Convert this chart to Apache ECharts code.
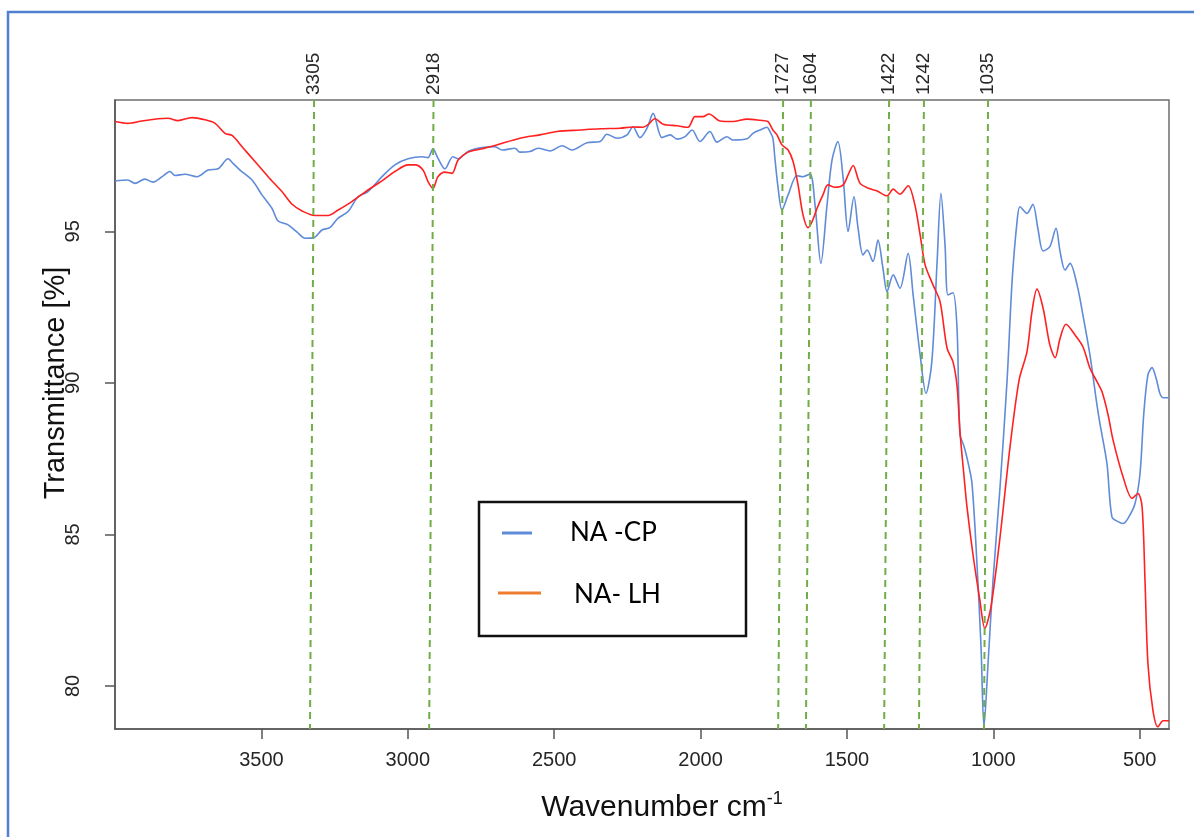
<!DOCTYPE html>
<html>
<head>
<meta charset="utf-8">
<script src="https://cdn.jsdelivr.net/npm/echarts@6/dist/echarts.min.js"></script>
<style>
html,body{margin:0;padding:0;background:#fff;}
#chart{width:1194px;height:837px;}
</style>
</head>
<body>
<div id="chart"></div>
<script>
// ---- Data ----
// NA-CP (blue) spectrum
const cpWave = [4000,3956,3932,3898,3870,3839,3812,3795,3761,3720,
  3682,3648,3614,3597,3573,3532,3498,3464,3443,3409,
  3378,3351,3320,3293,3266,3238,3204,3170,3136,3088,
  3044,2999,2951,2931,2914,2897,2873,2846,2828,2794,
  2747,2702,2678,2634,2617,2583,2555,2514,2473,2439,
  2388,2343,2320,2285,2251,2231,2207,2183,2162,2132,
  2104,2080,2053,2029,2002,1968,1944,1910,1889,1841,
  1821,1797,1773,1763,1753,1746,1735,1722,1701,1671,
  1650,1626,1609,1589,1568,1551,1531,1513,1496,1476,
  1462,1445,1431,1411,1394,1377,1363,1342,1319,1291,
  1274,1250,1230,1210,1192,1179,1165,1155,1138,1124,
  1114,1100,1087,1073,1056,1042,1032,1018,1001,977,
  953,936,919,909,885,865,848,830,807,786,
  772,755,738,714,694,670,646,636,612,595,
  574,557,540,516,499,486,472,458,444,431,
  420,400];
const cpTrans = [96.66,96.69,96.58,96.72,96.62,96.80,96.97,96.84,96.88,96.80,
  97.02,97.06,97.39,97.24,97.02,96.69,96.20,95.76,95.34,95.21,
  94.97,94.77,94.79,95.04,95.12,95.43,95.65,96.14,96.31,96.80,
  97.19,97.39,97.46,97.43,97.72,97.41,97.06,97.46,97.39,97.63,
  97.76,97.79,97.68,97.74,97.61,97.63,97.74,97.65,97.82,97.68,
  97.92,97.96,98.20,98.07,98.18,98.45,98.09,98.40,98.89,98.09,
  98.18,98.04,98.12,98.34,97.96,98.29,97.94,98.12,98.01,98.05,
  98.23,98.34,98.43,98.29,98.07,97.40,96.42,95.70,96.20,96.83,
  96.80,96.89,95.87,93.94,95.87,97.35,97.96,96.75,94.99,96.14,
  95.10,94.22,94.38,94.00,94.71,93.78,93.01,93.56,93.12,94.27,
  92.90,90.92,89.65,90.70,94.00,96.25,94.55,92.90,92.97,91.80,
  88.30,87.90,87.40,86.69,84.05,81.29,78.65,80.75,83.49,86.57,
  90.09,93.34,95.32,95.81,95.59,95.89,95.10,94.35,94.49,95.10,
  94.33,93.72,93.94,93.23,92.24,90.92,89.27,88.66,87.34,85.58,
  85.42,85.36,85.53,86.02,87.01,89.00,90.26,90.50,90.15,89.65,
  89.51,89.51];

// NA-LH (red) spectrum
const lhWave = [4000,3956,3908,3853,3819,3785,3737,3693,3658,3624,
  3600,3566,3522,3477,3430,3395,3361,3317,3272,3238,
  3191,3136,3088,3044,2999,2975,2948,2931,2914,2897,
  2873,2849,2828,2794,2747,2702,2617,2548,2490,2412,
  2343,2275,2231,2197,2180,2156,2128,2080,2043,2019,
  1992,1971,1934,1889,1841,1797,1770,1753,1739,1722,
  1701,1684,1667,1650,1633,1619,1602,1582,1565,1541,
  1513,1496,1479,1455,1421,1397,1363,1342,1319,1291,
  1268,1250,1233,1206,1182,1158,1138,1124,1114,1100,
  1090,1070,1046,1029,1008,977,943,912,885,868,
  851,830,807,789,772,752,721,694,670,646,
  629,608,591,557,526,506,492,482,472,455,
  438,420,400];
const lhTrans = [98.62,98.56,98.64,98.71,98.73,98.65,98.75,98.68,98.56,98.23,
  98.16,97.79,97.30,96.80,96.31,95.89,95.67,95.52,95.52,95.70,
  95.98,96.36,96.66,96.97,97.19,97.19,97.02,96.64,96.42,96.80,
  96.95,96.91,97.35,97.61,97.72,97.83,98.07,98.18,98.29,98.34,
  98.38,98.40,98.44,98.43,98.51,98.71,98.53,98.48,98.43,98.78,
  98.78,98.87,98.64,98.62,98.70,98.66,98.62,98.34,98.18,97.85,
  97.68,97.30,96.53,95.54,95.12,95.32,95.76,96.20,96.53,96.45,
  96.53,96.86,97.17,96.58,96.40,96.33,96.17,96.39,96.22,96.50,
  95.87,94.88,93.89,93.23,92.68,91.14,90.70,89.90,88.40,86.90,
  85.91,84.37,82.83,81.90,82.61,84.92,87.89,90.09,91.03,92.35,
  93.09,92.46,91.25,90.83,91.47,91.93,91.58,91.19,90.48,90.04,
  89.71,88.94,88.11,86.90,86.19,86.35,85.91,83.49,80.74,79.20,
  78.65,78.85,78.85];

// Peak marker lines (as drawn: slightly slanted, top/bottom positions in cm-1)
const peakLabels = ['3305','2918','1727','1604','1422','1242','1035'];
const peakTop    = [3320,2912,1718,1623,1356,1237,1018];
const peakBottom = [3334,2927,1735,1640,1373,1254,1032];

// Axis ticks
const xTicks = [3500,3000,2500,2000,1500,1000,500];
const yTicks = [80,85,90,95];
const xMin = 400, xMax = 4000;
const yMin = 78.58, yMax = 99.33;

const seriesNames = ['NA -CP','NA- LH'];
// ------------------------------------------------

const cpData = cpWave.map((w,i)=>[w,cpTrans[i]]);
const lhData = lhWave.map((w,i)=>[w,lhTrans[i]]);
const markLines = peakTop.map((t,i)=>[{coord:[t,yMax]},{coord:[peakBottom[i],yMin]}]);

const FONT = '"Liberation Sans", Arial, sans-serif';
const plain = v => String(v);
const chart = echarts.init(document.getElementById('chart'), null, {renderer:'canvas'});
chart.setOption({
  animation:false,
  backgroundColor:'#ffffff',
  grid:{left:115, right:25, top:100, bottom:108, show:true, borderColor:'#6e6e6e', borderWidth:1.5, backgroundColor:'transparent'},
  xAxis:[{
    type:'value', min:xMin, max:xMax, inverse:true, position:'bottom',
    axisLine:{show:true, onZero:false, lineStyle:{color:'#555', width:1.5}},
    axisTick:{show:true, customValues:xTicks, length:10, lineStyle:{color:'#555', width:1.5}},
    axisLabel:{customValues:xTicks, margin:21, fontSize:20, color:'#262626', fontFamily:FONT, formatter:plain},
    splitLine:{show:false}
  },{
    type:'value', min:xMin, max:xMax, inverse:true, position:'top',
    axisLine:{show:false}, axisTick:{show:false},
    axisLabel:{customValues:peakTop, rotate:-90, margin:5, fontSize:19, color:'#262626', fontFamily:FONT,
      formatter:function(v){const i=peakTop.indexOf(v); return i>=0?peakLabels[i]:'';}},
    splitLine:{show:false}
  }],
  yAxis:{
    type:'value', min:yMin, max:yMax,
    axisLine:{show:true, onZero:false, lineStyle:{color:'#555', width:1.5}},
    axisTick:{show:true, customValues:yTicks, length:10, lineStyle:{color:'#555', width:1.5}},
    axisLabel:{customValues:yTicks, rotate:90, margin:32, fontSize:20, color:'#262626', fontFamily:FONT, formatter:plain},
    splitLine:{show:false}
  },
  series:[{
    name:seriesNames[0], type:'line', data:cpData, showSymbol:false, smooth:0.3,
    lineStyle:{color:'#5f8bd8', width:1.6}, itemStyle:{color:'#5f8bd8'}, z:3,
    markLine:{silent:true, symbol:['none','none'], label:{show:false}, animation:false,
      lineStyle:{color:'#70ad47', type:[7,5], width:2}, data:markLines}
  },{
    name:seriesNames[1], type:'line', data:lhData, showSymbol:false, smooth:0.3,
    lineStyle:{color:'#ff2020', width:1.6}, itemStyle:{color:'#ff2020'}, z:4
  }],
  graphic:[
    {type:'rect', shape:{x:8, y:12, width:1300, height:1000}, style:{fill:'none', stroke:'#4f81cf', lineWidth:2.5}, z:0},
    {type:'text', x:662, y:808, style:{text:'{a|Wavenumber cm}{b|-1}', align:'center', verticalAlign:'middle',
      rich:{a:{fontSize:30, fontFamily:FONT, fill:'#111', lineHeight:36},
            b:{fontSize:18, fontFamily:FONT, fill:'#111', verticalAlign:'top', lineHeight:36}}}},
    {type:'text', x:56, y:383, rotation:Math.PI/2, style:{text:'Transmittance [%]', fontSize:29, fontFamily:FONT, fill:'#111', align:'center', verticalAlign:'middle'}},
    {type:'rect', shape:{x:479, y:502, width:267, height:134}, style:{fill:'#fff', stroke:'#111', lineWidth:2.5}, z:10},
    {type:'line', shape:{x1:502, y1:533, x2:532, y2:533}, style:{stroke:'#5f8bd8', lineWidth:3}, z:11},
    {type:'text', x:570, y:533, style:{text:seriesNames[0], fontSize:26, fontFamily:'Lato, "Open Sans", sans-serif', fill:'#000', align:'left', verticalAlign:'middle'}, z:11},
    {type:'line', shape:{x1:498, y1:593, x2:541, y2:593}, style:{stroke:'#ed7d31', lineWidth:3}, z:11},
    {type:'text', x:574, y:595, style:{text:seriesNames[1], fontSize:26, fontFamily:'Lato, "Open Sans", sans-serif', fill:'#000', align:'left', verticalAlign:'middle'}, z:11}
  ]
});
</script>
</body>
</html>
